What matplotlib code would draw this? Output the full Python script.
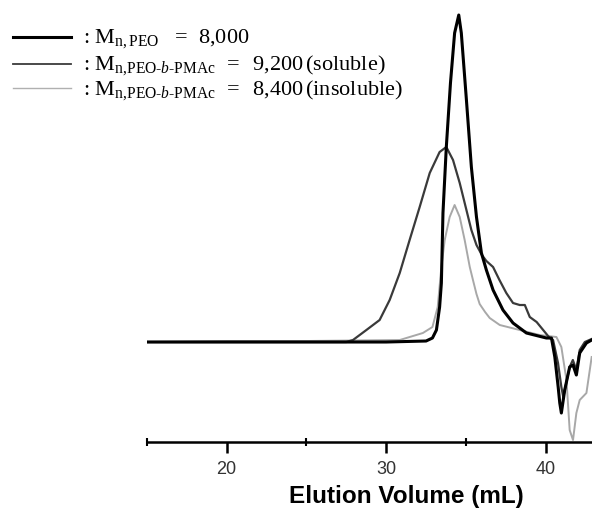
import numpy as np
import matplotlib
matplotlib.use('Agg')
import matplotlib.pyplot as plt
from matplotlib.lines import Line2D

plt.rcParams['mathtext.fontset'] = 'custom'
plt.rcParams['mathtext.rm'] = 'Liberation Serif'
plt.rcParams['mathtext.it'] = 'Liberation Serif:italic'

# GPC traces (elution volume in mL, signal in a.u.)
peo_x = [15, 20, 25, 30, 32.5, 32.9, 33.15, 33.35, 33.46, 33.56, 33.77, 34.03, 34.29,
         34.55, 34.71, 35.03, 35.34, 35.66, 35.97, 36.28, 36.70, 37.32, 37.95, 38.79,
         40.04, 40.36, 40.57, 40.78, 40.88, 40.98, 41.19, 41.5, 41.71, 41.92, 42.13,
         42.55, 42.88]
peo_y = [0, 0, 0, 0, 1, 4, 12, 35, 59, 129, 195, 259, 309,
         327, 309, 242, 175, 125, 89, 72, 52, 32, 19, 9,
         4, 4, -15, -45, -61, -71, -48, -25, -23, -33, -11,
         -1, 2]

sol_x = [15, 20, 27.5, 27.92, 28.76, 29.59, 30.22, 30.85, 31.47, 32.1, 32.73, 33.35,
         33.77, 34.19, 34.61, 35.03, 35.34, 35.66, 36.0, 36.28, 36.7, 37.1, 37.53,
         37.95, 38.37, 38.69, 39.0, 39.43, 39.84, 40.25, 40.46, 40.77, 40.98, 41.1,
         41.3, 41.5, 41.7, 41.92, 42.13, 42.45, 42.88]
sol_y = [0, 0, 0, 2, 12, 22, 42, 69, 102, 135, 169, 190,
         195, 182, 159, 132, 112, 97, 87, 81, 75, 62, 49,
         39, 37, 37, 25, 20, 12, 4, 2, -21, -45, -55,
         -40, -25, -18, -28, -8, 0, 3]

ins_x = [15, 20, 25, 30.85, 32.3, 32.9, 33.23, 33.46, 33.67, 33.98, 34.29, 34.61,
         34.92, 35.24, 35.44, 35.66, 35.86, 36.2, 36.49, 37.12, 38.37, 39.62, 40.67,
         40.98, 41.3, 41.5, 41.71, 41.92, 42.13, 42.55, 42.88]
ins_y = [0, 1, 1, 2, 9, 15, 35, 75, 102, 125, 137, 125,
         102, 75, 62, 48, 38, 30, 24, 17, 12, 7, 5,
         -5, -38, -88, -98, -71, -58, -51, -15]

xticks = [20, 30, 40]

fig = plt.figure(figsize=(5.92, 5.09), dpi=100)
ax = fig.add_axes([0.248, 0.1316, 0.752, 0.8684])

ax.plot(ins_x, ins_y, color='#a8a8a8', lw=1.4, zorder=1)
ax.plot(sol_x, sol_y, color='#3a3a3a', lw=1.6, zorder=2)
ax.plot(peo_x, peo_y, color='black', lw=2.2, zorder=3)

ax.set_xlim(15, 42.9)
ax.set_ylim(-100, 342)
for s in ['left', 'right', 'top']:
    ax.spines[s].set_visible(False)
ax.spines['bottom'].set_linewidth(1.8)
ax.set_yticks([])
ax.set_xticks(xticks)
ax.set_xticks([15, 25, 35], minor=True)
ax.tick_params(axis='x', which='major', direction='out', length=8, width=1.8,
               labelsize=13, pad=6, labelcolor='#333333')
ax.tick_params(axis='x', which='minor', direction='inout', length=6, width=1.5)
for lab in ax.get_xticklabels():
    lab.set_family('Liberation Sans')
ax.set_xlabel('Elution Volume (mL)', fontsize=17.5, fontweight='bold',
              family='Liberation Sans')
ax.xaxis.set_label_coords(0.582, -0.098)

# legend drawn by hand at the top left
sub = r'$_{\text{n,PEO-}\mathit{b}\text{-PMAc}}$'
entries = [
    ('black', 2.2, r': M$_{\mathrm{n,PEO}}\quad$=  8,000', 0.927, 0.9155),
    ('#3a3a3a', 1.3, ': M' + sub + r'  =  $\,$9,200$\,$(soluble)', 0.874, 0.8625),
    ('#b0b0b0', 1.0, ': M' + sub + r'  =  $\,$8,400$\,$(insoluble)', 0.827, 0.8134),
]
for col, lw, txt, yl, yt in entries:
    fig.add_artist(Line2D([0.022, 0.12], [yl, yl], color=col, lw=lw,
                          transform=fig.transFigure))
    fig.text(0.14, yt, txt, fontsize=16, family='Liberation Serif', va='baseline')

fig.savefig('out.png', dpi=100)
